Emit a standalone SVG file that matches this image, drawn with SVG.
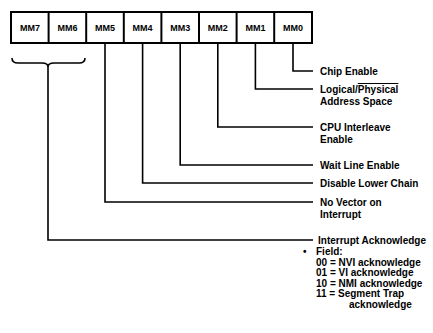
<svg xmlns="http://www.w3.org/2000/svg" width="433" height="333" viewBox="0 0 433 333">
<style>
.cell{fill:#fff;stroke:#000;stroke-width:2}
.div{stroke:#000;stroke-width:2}
.lbl{font-family:"Liberation Sans",Arial,sans-serif;font-weight:bold;font-size:9px;text-anchor:middle;fill:#000}
.txt{font-family:"Liberation Sans",Arial,sans-serif;font-weight:bold;font-size:10px;fill:#000}
.conn{fill:none;stroke:#000;stroke-width:1.6}
</style>
<rect width="433" height="333" fill="#fff"/>
<g id="register">
<rect class="cell" x="11" y="12" width="301" height="31"/>
<line class="div" x1="48.6" y1="12" x2="48.6" y2="43"/>
<line class="div" x1="86.2" y1="12" x2="86.2" y2="43"/>
<line class="div" x1="123.8" y1="12" x2="123.8" y2="43"/>
<line class="div" x1="161.4" y1="12" x2="161.4" y2="43"/>
<line class="div" x1="199" y1="12" x2="199" y2="43"/>
<line class="div" x1="236.6" y1="12" x2="236.6" y2="43"/>
<line class="div" x1="274.2" y1="12" x2="274.2" y2="43"/>
</g>
<g id="mm7"><text class="lbl" x="30" y="30.5">MM7</text></g>
<g id="mm6"><text class="lbl" x="67.4" y="30.5">MM6</text></g>
<g id="mm5"><text class="lbl" x="105" y="30.5">MM5</text></g>
<g id="mm4"><text class="lbl" x="142.6" y="30.5">MM4</text></g>
<g id="mm3"><text class="lbl" x="180.2" y="30.5">MM3</text></g>
<g id="mm2"><text class="lbl" x="217.8" y="30.5">MM2</text></g>
<g id="mm1"><text class="lbl" x="255.4" y="30.5">MM1</text></g>
<g id="mm0"><text class="lbl" x="293" y="30.5">MM0</text></g>
<g id="connectors">
<path class="conn" d="M12,58 Q12,63 18,63 L42,63 Q48,63 48,67 Q48,63 54,63 L79,63 Q85,63 85,58"/>
<path class="conn" d="M48,67 V240 H313"/>
<path class="conn" d="M293,43 V71 H313"/>
<path class="conn" d="M255.4,43 V89 H313"/>
<path class="conn" d="M217.8,43 V127 H313"/>
<path class="conn" d="M180.2,43 V165 H313"/>
<path class="conn" d="M142.6,43 V183 H313"/>
<path class="conn" d="M105,43 V202 H313"/>
</g>
<g id="label-chip-enable"><text class="txt" x="320" y="75">Chip Enable</text></g>
<g id="label-logical"><text class="txt" x="320" y="93">Logical/<tspan text-decoration="overline">Physical</tspan></text><text class="txt" x="320" y="105">Address Space</text></g>
<g id="label-cpu"><text class="txt" x="320" y="131">CPU Interleave</text><text class="txt" x="320" y="143">Enable</text></g>
<g id="label-wait"><text class="txt" x="320" y="169">Wait Line Enable</text></g>
<g id="label-disable"><text class="txt" x="320" y="187">Disable Lower Chain</text></g>
<g id="label-novector"><text class="txt" x="320" y="206">No Vector on</text><text class="txt" x="320" y="218">Interrupt</text></g>
<g id="label-intack">
<text class="txt" x="318" y="244">Interrupt Acknowledge</text>
<text class="txt" x="303" y="255">•</text>
<text class="txt" x="316" y="255">Field:</text>
<text class="txt" x="316" y="265.5">00 = NVI acknowledge</text>
<text class="txt" x="316" y="276">01 = VI acknowledge</text>
<text class="txt" x="316" y="286.5">10 = NMI acknowledge</text>
<text class="txt" x="316" y="297">11 = Segment Trap</text>
<text class="txt" x="349" y="307.5">acknowledge</text>
</g>
</svg>
